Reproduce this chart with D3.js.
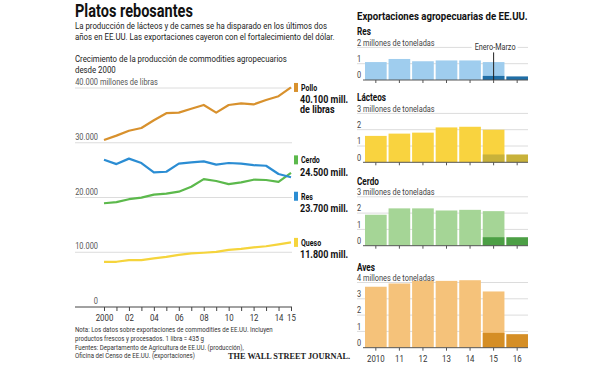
<html>
<head>
<meta charset="utf-8">
<script src="https://d3js.org/d3.v7.min.js"></script>
<style>
  body { margin: 0; background: white; }
  text { font-family: Roboto, "Noto Sans", sans-serif; }
</style>
</head>
<body>
<svg width="600" height="370"></svg>
<script>
// left chart: production, millions of pounds
var years = [2000, 2001, 2002, 2003, 2004, 2005, 2006, 2007, 2008, 2009, 2010, 2011, 2012, 2013, 2014, 2015];
var pollo = [30500, 31300, 32200, 32700, 34100, 35400, 35500, 36200, 36900, 35500, 36900, 37200, 37000, 37800, 38500, 40100];
var res   = [26900, 26100, 27100, 26300, 24600, 24700, 26200, 26400, 26600, 26000, 26300, 26200, 25900, 25800, 24300, 23700];
var cerdo = [18950, 19160, 19690, 19970, 20530, 20710, 21060, 21960, 23350, 23020, 22440, 22760, 23250, 23200, 22840, 24500];
var queso = [8260, 8260, 8550, 8560, 8870, 9150, 9530, 9780, 9910, 10070, 10440, 10600, 10890, 11100, 11450, 11800];
var yTicks = [0, 10000, 20000, 30000, 40000];
var xTickLabels = ["2000", "02", "04", "06", "08", "10", "12", "14", "15"];

// right charts: exports, millions of tonnes
var exportYears = ["2010", "11", "12", "13", "14", "15", "16"];
var resAnual = [1.10, 1.29, 1.15, 1.20, 1.20, 1.10];
var resEneMar = [0.25, 0.22];
var lacteosAnual = [1.62, 1.76, 1.82, 2.14, 2.18, 2.00];
var lacteosEneMar = [0.48, 0.48];
var cerdoAnual = [1.90, 2.29, 2.29, 2.16, 2.20, 2.12];
var cerdoEneMar = [0.52, 0.52];
var avesAnual = [3.74, 3.94, 4.10, 4.10, 4.14, 3.45];
var avesEneMar = [0.91, 0.83];

var svg = d3.select("svg");
var es = d3.formatLocale({decimal: ",", thousands: ".", grouping: [3], currency: ["", ""]});
var fmt = es.format(",");

function txt(parent, x, y, size, s, bold) {
  return parent.append("text").attr("class", "c").attr("x", x).attr("y", y)
    .attr("font-size", size).attr("font-weight", bold ? "bold" : null)
    .attr("fill", bold ? "#111" : "#222").text(s);
}

// titles
txt(svg, 75, 17, 17.8, "Platos rebosantes", true);
var sub1 = txt(svg, 75, 29, 9.6, "La producción de lácteos y de carnes se ha disparado en los últimos dos");
txt(svg, 75, 40, 9.6, "años en EE.UU. Las exportaciones cayeron con el fortalecimiento del dólar.");
txt(svg, 75, 62, 9.6, "Crecimiento de la producción de commodities agropecuarios");
txt(svg, 75, 72.5, 9.6, "desde 2000");

// ---- left line chart
var x = d3.scaleLinear().domain([2000, 2015]).range([104, 291]);
var y = d3.scaleLinear().domain([0, 40000]).range([307, 88]);

var gl = svg.append("g");
gl.selectAll("line.grid").data(yTicks.slice(1)).enter().append("line")
  .attr("x1", 75).attr("x2", 292)
  .attr("y1", d => y(d)).attr("y2", d => y(d))
  .attr("stroke", "#dcdcdc").attr("stroke-width", 1);
gl.selectAll("text.ytick").data(yTicks).enter().append("text")
  .attr("class", "c")
  .attr("x", 98).attr("y", d => y(d) - 3)
  .attr("text-anchor", "end").attr("font-size", 9.1).attr("fill", "#555")
  .text(d => fmt(d));
txt(gl, 100, y(40000) - 3, 9.1, "millones de libras").attr("fill", "#555");

// x axis
var xAxis = d3.axisBottom(x).tickValues(years).tickSize(4).tickPadding(3)
  .tickFormat(function(d) {
    var s = d === 2000 ? "2000" : String(d).slice(2);
    return xTickLabels.indexOf(s) >= 0 ? s : "";
  });
var gx = gl.append("g").attr("transform", "translate(0,307)").call(xAxis);
gx.select(".domain").remove();
gx.append("line").attr("x1", 75).attr("x2", 292).attr("stroke", "#444");
gx.selectAll(".tick line").attr("stroke", "#444");
gx.selectAll(".tick text").filter(function() { return this.textContent === ""; }).remove();
gx.selectAll(".tick text").attr("class", "c").attr("font-size", 9.6).attr("fill", "#333")
  .style("font-family", "Roboto, sans-serif");

var series = [
  {name: "Pollo", values: pollo, color: "#d8912d", lines: ["40.100 mill.", "de libras"], dy: 0},
  {name: "Cerdo", values: cerdo, color: "#5cb94c", lines: ["24.500 mill."], dy: -13},
  {name: "Res",   values: res,   color: "#2b8dd3", lines: ["23.700 mill."], dy: 19},
  {name: "Queso", values: queso, color: "#f5d43c", lines: ["11.800 mill."], dy: 0}
];
var line = d3.line().x((d, i) => x(years[i])).y(d => y(d));
series.forEach(function(s) {
  gl.append("path").attr("d", line(s.values)).attr("fill", "none")
    .attr("stroke", s.color).attr("stroke-width", 2.2).attr("stroke-linejoin", "round");
});
series.forEach(function(s) {
  var ly = y(s.values[s.values.length - 1]) + s.dy;
  gl.append("rect").attr("x", 294).attr("y", ly - 4.5).attr("width", 4).attr("height", 9).attr("fill", s.color);
  txt(gl, 301, ly + 3.5, 8.6, s.name, true);
  s.lines.forEach(function(t, k) {
    txt(gl, 300, ly + 16 + k * 9.8, 11, t, true);
  });
});

// notes
var notes = ["Nota: Los datos sobre exportaciones de commodities de EE.UU. Incluyen",
             "productos frescos y procesados.  1 libra = 435 g",
             "Fuentes: Departamento de Agricultura de EE.UU. (producción),",
             "Oficina del Censo de EE.UU. (exportaciones)"];
notes.forEach(function(t, i) {
  txt(svg, 75, 332 + i * 8.8, 7.5, t).attr("fill", "#333");
});
svg.append("text").attr("x", 228).attr("y", 358.5)
  .attr("font-size", 8).attr("font-weight", "bold").attr("fill", "#222")
  .attr("textLength", 122).attr("lengthAdjust", "spacingAndGlyphs")
  .style("font-family", '"Liberation Serif", "DejaVu Serif", serif')
  .text("THE WALL STREET JOURNAL.");

// ---- right bar charts
txt(svg, 357, 20, 11.8, "Exportaciones agropecuarias de EE.UU.", true);

var k = 16.3; // px per million tonnes
var xb = d3.scaleBand().domain(exportYears).range([365, 528]).paddingInner(0.08);

var panels = [
  {name: "Res", base: 80, max: 2, anual: resAnual, q1: resEneMar, light: "#9fcdee", dark: "#1f6ea6"},
  {name: "Lácteos", base: 162.3, max: 3, anual: lacteosAnual, q1: lacteosEneMar, light: "#f9d33f", dark: "#c8b23a"},
  {name: "Cerdo", base: 245.7, max: 3, anual: cerdoAnual, q1: cerdoEneMar, light: "#a5d596", dark: "#4c9f45"},
  {name: "Aves", base: 347.7, max: 4, anual: avesAnual, q1: avesEneMar, light: "#f5c27a", dark: "#d58e25"}
];

panels.forEach(function(p, pi) {
  var yb = d3.scaleLinear().domain([0, p.max]).range([p.base, p.base - p.max * k]);
  var g = svg.append("g");
  var top = yb(p.max);
  txt(g, 357, top - 12, 10, p.name, true);
  var ticks = d3.range(0, p.max + 1);
  g.selectAll("line.grid").data(ticks.slice(1)).enter().append("line")
    .attr("x1", 357).attr("x2", 528).attr("y1", d => yb(d)).attr("y2", d => yb(d))
    .attr("stroke", "#dcdcdc");
  g.selectAll("text.tl").data(ticks).enter().append("text")
    .attr("class", "c")
    .attr("x", 357).attr("y", d => yb(d) - 1.8)
    .attr("font-size", 9).attr("fill", "#444")
    .text(d => d === p.max ? d + " millones de toneladas" : d);

  g.selectAll("rect.anual").data(p.anual).enter().append("rect")
    .attr("x", (d, i) => xb(exportYears[i])).attr("width", xb.bandwidth())
    .attr("y", d => yb(d)).attr("height", d => yb(0) - yb(d))
    .attr("fill", p.light);
  g.selectAll("rect.q1").data(p.q1).enter().append("rect")
    .attr("x", (d, i) => xb(exportYears[i + 5])).attr("width", xb.bandwidth())
    .attr("y", d => yb(d)).attr("height", d => yb(0) - yb(d))
    .attr("fill", p.dark);

  var ax = d3.axisBottom(xb).tickSize(3).tickPadding(4);
  var ga = g.append("g").attr("transform", "translate(0," + p.base + ")").call(ax);
  ga.select(".domain").remove();
  ga.append("line").attr("x1", 363).attr("x2", 528).attr("stroke", "#555");
  ga.selectAll(".tick line").attr("stroke", "#555");
  if (pi < 3) ga.selectAll(".tick text").remove();
  ga.selectAll(".tick text").attr("class", "c").attr("font-size", 9.6).attr("fill", "#333")
    .style("font-family", "Roboto, sans-serif");

  if (pi === 0) {
    var cx = xb("15") + xb.bandwidth() / 2;
    g.append("rect").attr("x", cx - 22).attr("y", top - 6).attr("width", 46).attr("height", 10).attr("fill", "white");
    txt(g, cx + 1.5, top + 2.5, 8.9, "Enero-Marzo").attr("text-anchor", "middle").attr("fill", "#333");
    g.append("line").attr("x1", cx).attr("x2", cx).attr("y1", top + 5).attr("y2", p.base).attr("stroke", "#222");
  }
});

// condense all text to match the narrow newspaper face
var f = 252 / sub1.node().getComputedTextLength();
svg.selectAll("text.c").each(function() {
  var w = this.getComputedTextLength();
  if (w > 0) d3.select(this).attr("textLength", w * f).attr("lengthAdjust", "spacingAndGlyphs");
});
</script>
</body>
</html>
